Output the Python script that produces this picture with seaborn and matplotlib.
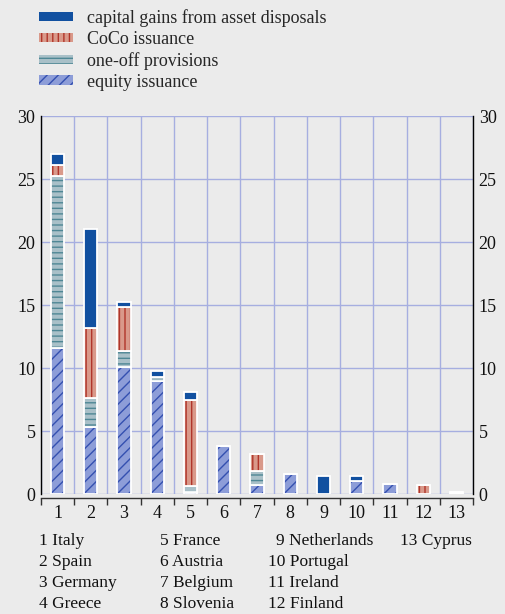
import numpy as np
import pandas as pd
import matplotlib
matplotlib.use('Agg')
import matplotlib.pyplot as plt
import seaborn as sns
from matplotlib.patches import Patch
from matplotlib.ticker import MultipleLocator, FixedLocator

# data (EUR bn)
numbers = ['1', '2', '3', '4', '5', '6', '7', '8', '9', '10', '11', '12', '13']
countries = ['Italy', 'Spain', 'Germany', 'Greece', 'France', 'Austria', 'Belgium',
             'Slovenia', 'Netherlands', 'Portugal', 'Ireland', 'Finland', 'Cyprus']
equity = [11.6, 5.3, 10.1, 9.0, 0.2, 3.8, 0.7, 1.55, 0.0, 1.0, 0.77, 0.0, 0.0]
provisions = [13.65, 2.35, 1.25, 0.3, 0.45, 0.0, 1.1, 0.0, 0.0, 0.0, 0.0, 0.0, 0.05]
coco = [0.9, 5.55, 3.5, 0.0, 6.8, 0.0, 1.4, 0.0, 0.0, 0.0, 0.0, 0.7, 0.15]
gains = [0.8, 7.85, 0.4, 0.5, 0.65, 0.0, 0.0, 0.0, 1.45, 0.4, 0.0, 0.0, 0.0]

series_names = ['equity issuance', 'one-off provisions', 'CoCo issuance',
                'capital gains from asset disposals']
series_values = [equity, provisions, coco, gains]
face_colors = ['#8d9dd8', '#a9c0c8', '#d9998a', '#1150a0']
hatch_colors = ['#3450b0', '#4f8795', '#b0352a', '#1150a0']
hatches = ['///', '---', '|||', None]

BG = '#ebebeb'
sns.set_theme(style='whitegrid', rc={'axes.facecolor': BG, 'figure.facecolor': BG,
                                     'grid.color': '#a6aee0', 'grid.linewidth': 1.0})
plt.rcParams['font.family'] = ['Liberation Serif', 'DejaVu Serif']
plt.rcParams['hatch.linewidth'] = 1.0

fig = plt.figure(figsize=(5.06, 6.14), dpi=100)
ax = fig.add_axes([0.081, 0.1954, 0.854, 0.6156])

df = pd.DataFrame({'num': numbers})
bottom = np.zeros(len(numbers))
for vals, fc, hc, h in zip(series_values, face_colors, hatch_colors, hatches):
    vals = np.array(vals)
    # filled, hatched segment, then a white outline on top
    sns.barplot(x=df['num'], y=vals, order=numbers, color=fc, saturation=1,
                width=0.4, errorbar=None, bottom=bottom, hatch=h,
                edgecolor=hc, linewidth=0, ax=ax)
    sns.barplot(x=df['num'], y=vals, order=numbers, color='white', saturation=1,
                width=0.4, errorbar=None, bottom=bottom, fill=False,
                linewidth=1.3, ax=ax)
    bottom = bottom + vals

ax.set_xlim(-0.5, len(numbers) - 0.5)
ax.set_ylim(0, 30)
ax.yaxis.set_major_locator(MultipleLocator(5))
ax.xaxis.set_minor_locator(FixedLocator(np.arange(-0.5, len(numbers), 1.0)))
ax.grid(False)
ax.grid(True, which='major', axis='y')
ax.grid(True, which='minor', axis='x')
ax.set_axisbelow(True)
ax.set_xlabel('')
ax.set_ylabel('')

ax.spines['top'].set_visible(False)
for side in ['left', 'right', 'bottom']:
    ax.spines[side].set_visible(True)
    ax.spines[side].set_color('black')
    ax.spines[side].set_linewidth(1.0)
ax.spines['bottom'].set_position(('outward', 3))
ax.spines['bottom'].set_color('#333333')

ax.tick_params(axis='y', which='both', left=False, right=False, length=0,
               labelleft=True, labelright=True, labelsize=13, pad=4, colors='#111111')
ax.tick_params(axis='x', which='major', bottom=False, length=0, labelsize=13,
               pad=5, colors='#111111')
ax.tick_params(axis='x', which='minor', bottom=True, length=5, width=1.0,
               color='#333333', direction='out')

# legend
handles = [Patch(facecolor=fc, hatch=h, edgecolor=hc, linewidth=0, label=n)
           for n, fc, hc, h in zip(series_names, face_colors, hatch_colors, hatches)]
handles = handles[::-1]
fig.legend(handles=handles, loc='upper left', bbox_to_anchor=(0.052, 1.006),
           frameon=False, fontsize=13, handlelength=1.9, handleheight=0.42,
           handletextpad=0.75, labelspacing=0.22, borderaxespad=0.3)

# country key
col_x = [39, 160, 268, 400]
row_y = [541, 562, 583, 604]
W, H = 506, 614
for i, (num, name) in enumerate(zip(numbers, countries)):
    col, row = divmod(i, 4)
    x = col_x[col]
    if col == 2 and len(num) == 1:
        x += 8
    fig.text(x / W, 1 - row_y[row] / H, f'{num} {name}', fontsize=12.5,
             ha='left', va='center', color='#111111')

fig.savefig('out.png', dpi=100, facecolor=BG)
